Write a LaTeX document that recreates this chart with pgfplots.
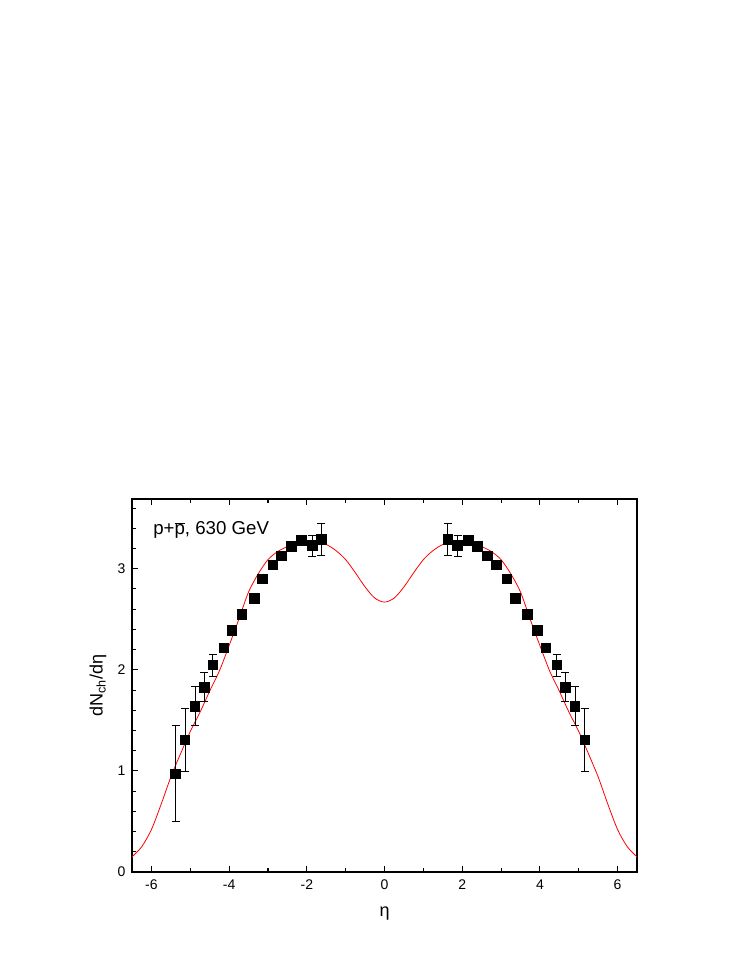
\documentclass[border=0pt]{standalone}
\usepackage{fontspec}
\setmainfont{Liberation Sans}
\usepackage{pgfplots}
\usepackage{pgfplotstable}
\pgfplotsset{compat=1.18}

\pgfplotstableread{
x y ep em
-5.38 0.97 0.48 0.47
-5.14 1.31 0.31 0.31
-4.88 1.64 0.20 0.19
-4.64 1.83 0.15 0.14
-4.42 2.05 0.10 0.11
-4.14 2.22 0 0
-3.93 2.39 0 0
-3.67 2.55 0 0
-3.36 2.71 0 0
-3.14 2.90 0 0
-2.88 3.04 0 0
-2.65 3.13 0 0
-2.40 3.22 0 0
-2.15 3.28 0 0
-1.86 3.23 0.10 0.11
-1.63 3.29 0.16 0.16
1.63 3.29 0.16 0.16
1.88 3.23 0.10 0.11
2.15 3.28 0 0
2.39 3.22 0 0
2.65 3.13 0 0
2.88 3.04 0 0
3.15 2.90 0 0
3.37 2.71 0 0
3.68 2.55 0 0
3.93 2.39 0 0
4.15 2.22 0 0
4.43 2.05 0.10 0.11
4.65 1.83 0.15 0.14
4.90 1.64 0.20 0.19
5.15 1.31 0.31 0.31
}\datatable

\pgfplotstableread{
x y
-6.50 0.15
-6.25 0.25
-6.00 0.42
-5.75 0.67
-5.50 0.94
-5.25 1.17
-5.00 1.39
-4.75 1.58
-4.50 1.79
-4.25 1.99
-4.00 2.24
-3.75 2.50
-3.50 2.77
-3.25 2.95
-3.00 3.09
-2.75 3.17
-2.50 3.22
-2.25 3.26
-2.00 3.28
-1.75 3.27
-1.50 3.24
-1.25 3.18
-1.00 3.09
-0.75 2.96
-0.50 2.82
-0.25 2.71
0.00 2.67
0.25 2.71
0.50 2.82
0.75 2.96
1.00 3.09
1.25 3.18
1.50 3.24
1.75 3.27
2.00 3.28
2.25 3.26
2.50 3.22
2.75 3.17
3.00 3.09
3.25 2.95
3.50 2.77
3.75 2.50
4.00 2.24
4.25 1.99
4.50 1.79
4.75 1.58
5.00 1.39
5.25 1.17
5.50 0.94
5.75 0.67
6.00 0.42
6.25 0.25
6.50 0.15
}\curvetable

\begin{document}
\begin{tikzpicture}
\path[use as bounding box] (0,0) rectangle (555.75pt,719.25pt);
\begin{axis}[
  at={(99pt,65.25pt)}, anchor=south west,
  scale only axis, width=378.75pt, height=279.75pt,
  xmin=-6.5, xmax=6.5, ymin=0, ymax=3.69,
  xtick={-6,-4,-2,0,2,4,6}, xticklabels={-6,-4,-2,0,2,4,6},
  minor xtick={-5,-3,-1,1,3,5},
  ytick={0,1,2,3}, yticklabels={0,1,2,3},
  minor ytick={0.2,0.4,0.6,0.8,1.2,1.4,1.6,1.8,2.2,2.4,2.6,2.8,3.2,3.4,3.6},
  tick align=inside,
  xtick pos=both, ytick pos=left,
  major tick length=4.5pt, minor tick length=3pt,
  axis line style={line width=1.3pt},
  tick style={black, line width=0.8pt},
  ticklabel style={font=\fontsize{10.5}{12}\selectfont},
  xticklabel style={yshift=-2.5pt},
  yticklabel style={xshift=-1.5pt},
  xlabel={η}, ylabel={dN\textsubscript{ch}/dη},
  label style={font=\fontsize{13.5}{15}\selectfont},
  xlabel style={at={(axis description cs:0.5,-0.11)}, anchor=center},
  ylabel style={at={(axis description cs:-0.0673,0.5)}, anchor=center},
  clip=true,
]
\addplot[red, line width=0.6pt, smooth] table[x=x,y=y]{\curvetable};
\addplot[only marks, mark=square*, mark size=3.6pt, black,
  error bars/.cd, y dir=both, y explicit,
  error bar style={black, line width=0.5pt},
  error mark options={rotate=90, mark size=3pt, line width=0.5pt, black}]
  table[x=x,y=y,y error plus=ep,y error minus=em]{\datatable};
\node[anchor=base west, inner sep=0pt, font=\fontsize{14}{16}\selectfont] at (rel axis cs:0.0416,0.9035) {p+$\overline{\mbox{p}}$, 630 GeV};
\end{axis}
\end{tikzpicture}
\end{document}
